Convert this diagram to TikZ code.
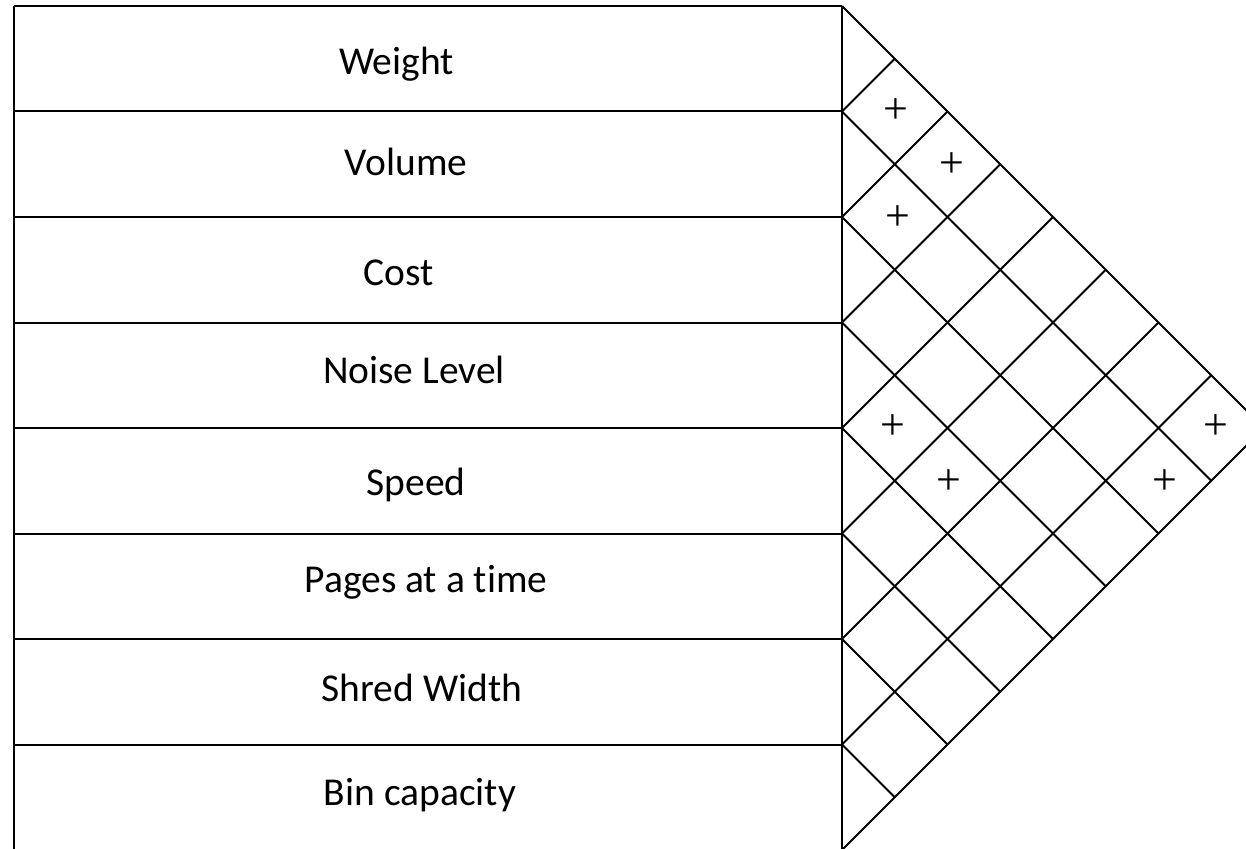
\documentclass[tikz,border=0pt]{standalone}
\usepackage{fontspec}
\setmainfont{Carlito}[Ligatures=NoCommon]
\newfontfamily\plusfont{Liberation Serif}
\usetikzlibrary{calc}
\tikzset{
  rule/.style={line width=2pt, black},
  label/.style={anchor=base, inner sep=0pt, font=\fontsize{39.5}{47}\selectfont, text=black},
  plusmark/.style={anchor=base, inner sep=0pt, font=\plusfont\fontsize{44}{50}\selectfont, text=black}
}
\begin{document}
\begin{tikzpicture}[x=1pt,y=-1pt]
\useasboundingbox (0,0) rectangle (1246,848);
\fill[white] (0,0) rectangle (1246,848);
\clip (0,0) rectangle (1246,848);
% boundary points on the vertical line
\foreach \k in {0,...,8}{
  \coordinate (b\k) at (842,{6+105.5*\k});
  \coordinate (l\k) at (14,{6+105.5*\k});
  % end of down-right line (meets lower outer edge)
  \coordinate (d\k) at ({842+(844-105.5*\k)/2},{(6+105.5*\k+850)/2});
  % end of up-right line (meets upper outer edge)
  \coordinate (u\k) at ({842+(105.5*\k)/2},{(6+105.5*\k+6)/2});
}
% table
\draw[rule] (l0) -- (l8);
\draw[rule] (b0) -- (b8);
\foreach \k in {0,...,8}{ \draw[rule] (l\k) -- (b\k); }
% lattice
\foreach \k in {0,...,7}{ \draw[rule] (b\k) -- (d\k); }
\foreach \k in {1,...,8}{ \draw[rule] (b\k) -- (u\k); }
% labels
\node[label] (r1) at (396.5,75) {Weight};
\node[label] (r2) at (406,175) {Volume};
\node[label] (r3) at (399,285) {Cost};
\node[label] (r4) at (414,383) {Noise Level};
\node[label] (r5) at (416,495) {Speed};
\node[label] (r6) at (426,592) {Pages at a time};
\node[label] (r7) at (422,701) {Shred Width};
\node[label] (r8) at (420,805) {Bin capacity};
% correlation marks
\node[plusmark] (p12) at (896,124) {+};
\node[plusmark] (p13) at (952,177) {+};
\node[plusmark] (p23) at (898,230.5) {+};
\node[plusmark] (p45) at (893,439) {+};
\node[plusmark] (p46) at (949,494) {+};
\node[plusmark] (p18) at (1216,439) {+};
\node[plusmark] (p28) at (1165,494) {+};
\end{tikzpicture}
\end{document}
